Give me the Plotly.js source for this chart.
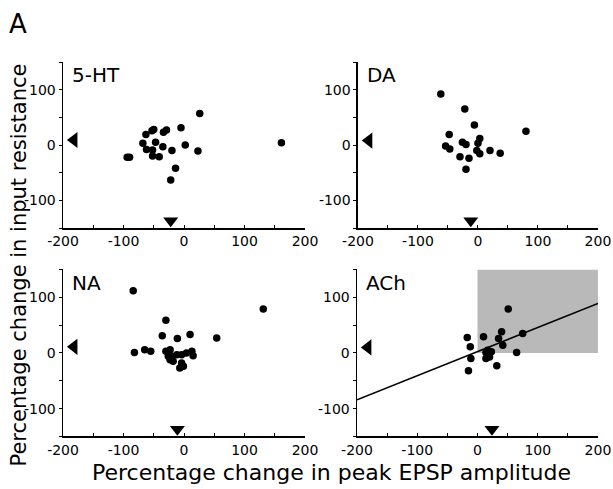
<!DOCTYPE html>
<html><head><meta charset="utf-8">
<script src="https://cdn.plot.ly/plotly-3.0.1.min.js"></script>
<style>html,body{margin:0;padding:0;background:#fff}#c{width:613px;height:489px}</style>
</head><body><div id="c"></div>
<script>
// 5-HT
const htX = [26,-5,-50,-53,-29,-34,-63,-68,-47,2,-35,-62,-52,-20,23,-90,-94,-52,-41,-14,-22,161];
const htY = [57,31,28,26,27,23,19,3,5,0,-3,-8,-9,-10,-11,-22,-22,-20,-21,-42,-63,4];
const htMean = [-22, 9];
// DA
const daX = [-62,-22,-6,80,-48,3,-26,-20,0,-54,-47,-2,3,20,37,-30,-15,-20];
const daY = [92,65,36,25,19,12,5,1,3,-2,-7,-10,-16,-10,-15,-21,-24,-44];
const daMean = [-12, 8];
// NA
const naX = [-84,131,-30,-36,-11,10,54,-82,-65,-55,-30,-23,-20,-23,-12,-4,4,13,15,-18,-4,-7,-1,-26];
const naY = [112,79,59,31,26,33,27,1,6,3,3,6,-6,-12,-3,-3,0,3,-5,-15,-18,-27,-24,-6];
const naMean = [-11, 11];
// ACh
const achX = [51,-17,10,40,75,35,42,-12,17,23,14,65,-11,14,20,32,-15];
const achY = [79,28,29,38,35,26,14,11,5,2,1,1,-10,-10,-7,-23,-32];
const achMean = [24, 10];
const achFitX = [-200, 200];
const achFitY = [-84, 89];
const achBox = {x0: 0, x1: 200, y0: 0, y1: 150};

const panels = [
  {name:'5-HT', x:htX, y:htY, m:htMean},
  {name:'DA', x:daX, y:daY, m:daMean},
  {name:'NA', x:naX, y:naY, m:naMean},
  {name:'ACh', x:achX, y:achY, m:achMean}
];
const xTicks = [-200,-150,-100,-50,0,50,100,150,200];
const xTickText = ['-200','','-100','','0','','100','','200'];
const yTicks = [-150,-100,-50,0,50,100,150];
const yTickText = ['','-100','','0','','100',''];

const FONT = 'DejaVu Sans, Liberation Sans, sans-serif';
const traces = [];
const layout = {
  width:613, height:489, margin:{l:0,r:0,t:0,b:0},
  paper_bgcolor:'#fff', plot_bgcolor:'rgba(0,0,0,0)', showlegend:false,
  font:{family:FONT, color:'#000', size:13},
  annotations:[], shapes:[]
};
const xDom = [[0.1028,0.4976],[0.5840,0.9755],[0.1028,0.4976],[0.5824,0.9755]];
const yDom = [[0.5337,0.8732],[0.5337,0.8732],[0.1074,0.4489],[0.1074,0.4489]];
panels.forEach((p,i)=>{
  const s = i===0 ? '' : String(i+1);
  const xa = 'x'+s, ya = 'y'+s;
  if (i===3) {
    layout.shapes.push({type:'rect', xref:xa, yref:ya, x0:achBox.x0, x1:achBox.x1, y0:achBox.y0, y1:achBox.y1,
      fillcolor:'#b9b9b9', line:{width:0}, layer:'below'});
    traces.push({x:achFitX, y:achFitY, xaxis:xa, yaxis:ya, mode:'lines', line:{color:'#000', width:1.5}, hoverinfo:'skip'});
  }
  traces.push({x:p.x, y:p.y, xaxis:xa, yaxis:ya, mode:'markers', marker:{color:'#000', size:7.5}, cliponaxis:false});
  traces.push({x:[-182], y:[p.m[1]], xaxis:xa, yaxis:ya, mode:'markers', marker:{symbol:'triangle-left', color:'#000', size:14}, cliponaxis:false});
  traces.push({x:[p.m[0]], y:[-137], xaxis:xa, yaxis:ya, mode:'markers', marker:{symbol:'triangle-down', color:'#000', size:13}, cliponaxis:false});
  layout['xaxis'+s] = {domain:xDom[i], anchor:ya, range:[-200,200], tickvals:xTicks, ticktext:xTickText,
    ticks:'inside', ticklen:3, tickwidth:1, tickcolor:'#000', showline:true, linecolor:'#000', linewidth:1.5,
    showgrid:false, zeroline:false, tickfont:{size:14, family:FONT}, fixedrange:true};
  layout['yaxis'+s] = {domain:yDom[i], anchor:xa, range:[-150,150], tickvals:yTicks, ticktext:yTickText,
    ticks:'outside', ticklen:3, tickwidth:1, tickcolor:'#000', showline:true, linecolor:'#000', linewidth:1.5,
    showgrid:false, zeroline:false, tickfont:{size:14, family:FONT}, fixedrange:true};
  layout.annotations.push({text:p.name, xref:'paper', yref:'paper', x:xDom[i][0]+0.012, y:yDom[i][1]+0.002,
    xanchor:'left', yanchor:'top', showarrow:false, font:{size:20, family:FONT, color:'#000'}});
});
layout.annotations.push({text:'A', xref:'paper', yref:'paper', x:0.012, y:0.985, xanchor:'left', yanchor:'top',
  showarrow:false, font:{size:26, family:FONT, color:'#000'}});
layout.annotations.push({text:'Percentage change in input resistance', xref:'paper', yref:'paper', x:0.031, y:0.457,
  textangle:-90, xanchor:'center', yanchor:'middle', showarrow:false, font:{size:21, family:FONT, color:'#000'}});
layout.annotations.push({text:'Percentage change in peak EPSP amplitude', xref:'paper', yref:'paper', x:0.54, y:0.034,
  xanchor:'center', yanchor:'middle', showarrow:false, font:{size:22, family:FONT, color:'#000'}});
Plotly.newPlot('c', traces, layout, {staticPlot:true});
</script></body></html>
